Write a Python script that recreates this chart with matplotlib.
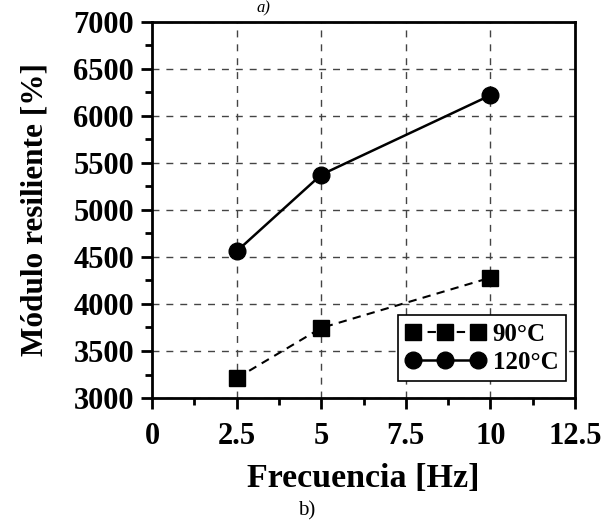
import matplotlib
matplotlib.use("Agg")
import matplotlib.pyplot as plt
from matplotlib.ticker import MultipleLocator

freq = [2.5, 5, 10]
mod_90 = [3210, 3745, 4280]
mod_120 = [4560, 5375, 6220]
labels = ["90°C", "120°C"]
x_ticks = [0, 2.5, 5, 7.5, 10, 12.5]
x_ticklabels = ["0", "2.5", "5", "7.5", "10", "12.5"]

plt.rcParams['font.family'] = ['Liberation Serif', 'DejaVu Serif']

fig = plt.figure(figsize=(6.13, 5.23), dpi=100)
ax = fig.add_axes([0.248, 0.239, 0.690, 0.719])

ax.plot(freq, mod_90, ls='--', color='black', lw=1.5, marker='s', ms=12,
        dashes=(4, 3), label=labels[0], zorder=3)
ax.plot(freq, mod_120, ls='-', color='black', lw=1.8, marker='o', ms=12,
        label=labels[1], zorder=3)

ax.set_xlim(0, 12.5)
ax.set_ylim(3000, 7000)
ax.set_xticks(x_ticks)
ax.set_xticklabels(x_ticklabels)
ax.xaxis.set_minor_locator(MultipleLocator(1.25))
ax.yaxis.set_major_locator(MultipleLocator(500))
ax.yaxis.set_minor_locator(MultipleLocator(250))

ax.grid(True, which='major', ls=(0, (5, 5)), color='#444444', lw=1.0)
# no gridlines on the border values
for gl in ax.get_xgridlines()[:1] + ax.get_xgridlines()[-1:]:
    gl.set_visible(False)
for gl in ax.get_ygridlines()[:1] + ax.get_ygridlines()[-1:]:
    gl.set_visible(False)

for sp in ax.spines.values():
    sp.set_linewidth(2)

ax.tick_params(which='major', direction='out', length=8, width=2,
               labelsize=22)
ax.tick_params(axis='x', which='major', pad=9)
ax.tick_params(axis='y', which='major', pad=5)
ax.tick_params(which='minor', direction='out', length=5, width=2)
for lab in ax.get_xticklabels() + ax.get_yticklabels():
    lab.set_fontweight('bold')

ax.set_xlabel("Frecuencia [Hz]", fontsize=24.5, fontweight='bold', labelpad=9)
ax.set_ylabel("Módulo resiliente [%]", fontsize=22.5, fontweight='bold', labelpad=17)

leg = ax.legend(loc='lower right', numpoints=3, fancybox=False, framealpha=1,
                edgecolor='black', prop={'size': 18, 'weight': 'bold'},
                handlelength=3.2, handletextpad=0.3, borderpad=0.3,
                labelspacing=0.2, borderaxespad=0,
                bbox_to_anchor=(0.979, 0.045))
leg.get_frame().set_linewidth(1.2)

fig.text(0.43, 1.0, "a)", ha='center', va='top', fontsize=12, style='italic')
fig.text(0.50, 0.005, "b)", ha='center', va='bottom', fontsize=15)

fig.savefig("out.png", dpi=100)
